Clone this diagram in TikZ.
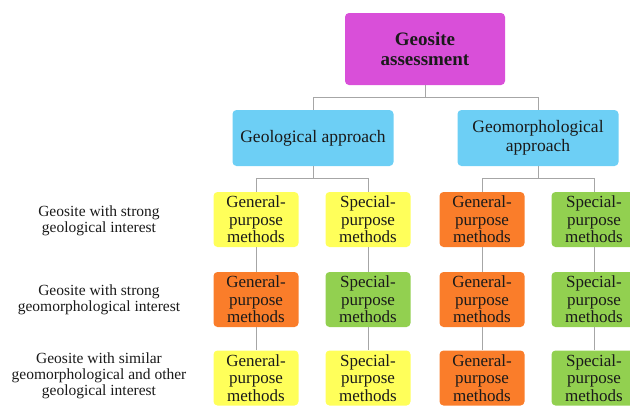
\documentclass[tikz,border=0pt]{standalone}
\usepackage{fontspec}
\setmainfont{Liberation Serif}
\definecolor{cMagenta}{HTML}{D94FD9}
\definecolor{cBlue}{HTML}{6DCFF5}
\definecolor{cYellow}{HTML}{FFFF5A}
\definecolor{cOrange}{HTML}{FA7D2A}
\definecolor{cGreen}{HTML}{92D050}
\definecolor{cLine}{HTML}{A6A6A6}
\definecolor{cText}{HTML}{1A1A1A}
\tikzset{
  box/.style = {rounded corners=4pt, align=center, inner sep=0pt, text=cText},
  topbox/.style = {box, fill=cMagenta, minimum width=160pt, minimum height=72pt, font=\fontsize{19}{19.5}\selectfont\bfseries},
  approach/.style = {box, fill=cBlue, minimum width=161pt, minimum height=56pt, font=\fontsize{17.5}{19}\selectfont},
  method/.style = {box, minimum width=85pt, minimum height=55pt, font=\fontsize{17}{17.5}\selectfont},
  rowlabel/.style = {align=center, text=cText, font=\fontsize{15.5}{16}\selectfont},
  link/.style = {draw=cLine, line width=1pt}
}
\begin{document}
\begin{tikzpicture}[x=1pt, y=-1pt]
    \useasboundingbox (0,0) rectangle (630,405);
    % Ô trên cùng và hai cách tiếp cận
    \node[topbox] (top) at (425,49) {Geosite\\assessment};
    \node[approach] (geo) at (313,138) {Geological approach};
    \node[approach] (geomorph) at (538,138) {Geomorphological\\approach};
    \draw[link] (top.south) -- ++(0,12) -| (geo.north);
    \draw[link] (top.south) -- ++(0,12) -| (geomorph.north);
    % Các ô phương pháp
    \foreach \r/\y/\ca/\cb/\cc/\cd in {1/219.5/cYellow/cYellow/cOrange/cGreen,
                                       2/299.5/cOrange/cGreen/cOrange/cGreen,
                                       3/378/cYellow/cYellow/cOrange/cGreen}
    {
        \node[method, fill=\ca] (m\r1) at (256,\y) {General-\\purpose\\methods};
        \node[method, fill=\cb] (m\r2) at (368,\y) {Special-\\purpose\\methods};
        \node[method, fill=\cc] (m\r3) at (482,\y) {General-\\purpose\\methods};
        \node[method, fill=\cd] (m\r4) at (594,\y) {Special-\\purpose\\methods};
    }
    \draw[link] (geo.south) -- ++(0,12) -| (m11.north);
    \draw[link] (geo.south) -- ++(0,12) -| (m12.north);
    \draw[link] (geomorph.south) -- ++(0,12) -| (m13.north);
    \draw[link] (geomorph.south) -- ++(0,12) -| (m14.north);
    \foreach \c in {1,...,4}
    {
        \draw[link] (m1\c.south) -- (m2\c.north);
        \draw[link] (m2\c.south) -- (m3\c.north);
    }
    % Nhãn các hàng
    \node[rowlabel] (row1) at (99,221) {Geosite with strong\\geological interest};
    \node[rowlabel] (row2) at (99,300) {Geosite with strong\\geomorphological interest};
    \node[rowlabel] (row3) at (99,376) {Geosite with similar\\geomorphological and other\\geological interest};
\end{tikzpicture}
\end{document}
